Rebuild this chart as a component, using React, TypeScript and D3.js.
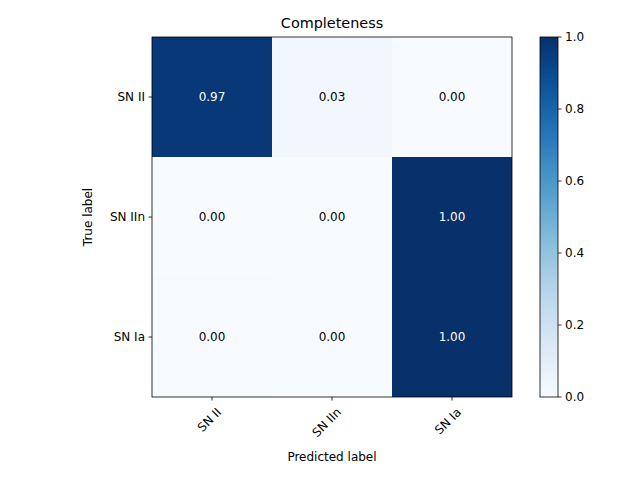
import React from 'react';
import * as d3 from 'd3';

const classes = ['SN II', 'SN IIn', 'SN Ia'];
const matrix = [
  [0.97, 0.03, 0.0],
  [0.0, 0.0, 1.0],
  [0.004, 0.0, 1.0],
];
const cbTicks = [0, 0.2, 0.4, 0.6, 0.8, 1.0];

export default function App() {
  const W = 640, H = 480;
  const left = 152, top = 37, size = 360;
  const x = d3.scaleBand<string>().domain(classes).range([left, left + size]);
  const y = d3.scaleBand<string>().domain(classes).range([top, top + size]);
  const color = (v: number) => d3.interpolateBlues(v);
  const cbX = 540, cbW = 18;
  const cy = d3.scaleLinear().domain([0, 1]).range([top + size, top]);
  const stops = d3.range(0, 1.0001, 0.05);
  const font = 'DejaVu Sans, sans-serif';

  return (
    <svg width={W} height={H} style={{ position: 'absolute', left: 0, top: 0, fontFamily: font }}>
      <rect width={W} height={H} fill="#fff" />
      <defs>
        <linearGradient id="cb" x1="0" y1="1" x2="0" y2="0">
          {stops.map(s => <stop key={s} offset={s} stopColor={color(s)} />)}
        </linearGradient>
      </defs>
      {matrix.map((row, i) => row.map((v, j) => (
        <g key={`${i}-${j}`}>
          <rect x={x(classes[j])} y={y(classes[i])} width={x.bandwidth()} height={y.bandwidth()} fill={color(v)} />
          <text x={x(classes[j])! + x.bandwidth() / 2} y={y(classes[i])! + y.bandwidth() / 2} dy="0.35em"
            textAnchor="middle" fontSize={12} fill={v > 0.5 ? '#fff' : '#000'}>{v.toFixed(2)}</text>
        </g>
      )))}
      <rect x={left} y={top} width={size} height={size} fill="none" stroke="#000" strokeWidth={0.8} />
      {classes.map(c => (
        <g key={'y' + c}>
          <line x1={left - 3.5} x2={left} y1={y(c)! + y.bandwidth() / 2} y2={y(c)! + y.bandwidth() / 2} stroke="#000" strokeWidth={0.8} />
          <text x={left - 7} y={y(c)! + y.bandwidth() / 2} dy="0.35em" textAnchor="end" fontSize={12}>{c}</text>
        </g>
      ))}
      {classes.map(c => {
        const cx = x(c)! + x.bandwidth() / 2;
        return (
          <g key={'x' + c}>
            <line x1={cx} x2={cx} y1={top + size} y2={top + size + 3.5} stroke="#000" strokeWidth={0.8} />
            <text transform={`translate(${cx + 4},${top + size + 10}) rotate(-45)`} textAnchor="end" dy="0.7em" fontSize={12}>{c}</text>
          </g>
        );
      })}
      <text x={(left + left + size) / 2} y={28} textAnchor="middle" fontSize={14.4}>Completeness</text>
      <text x={left + size / 2} y={461} textAnchor="middle" fontSize={12}>Predicted label</text>
      <text transform={`translate(92,${top + size / 2}) rotate(-90)`} textAnchor="middle" fontSize={12}>True label</text>
      <rect x={cbX} y={top} width={cbW} height={size} fill="url(#cb)" stroke="#000" strokeWidth={0.8} />
      {cbTicks.map(t => (
        <g key={'c' + t}>
          <line x1={cbX + cbW} x2={cbX + cbW + 3.5} y1={cy(t)} y2={cy(t)} stroke="#000" strokeWidth={0.8} />
          <text x={cbX + cbW + 7} y={cy(t)} dy="0.35em" fontSize={12}>{t.toFixed(1)}</text>
        </g>
      ))}
    </svg>
  );
}
